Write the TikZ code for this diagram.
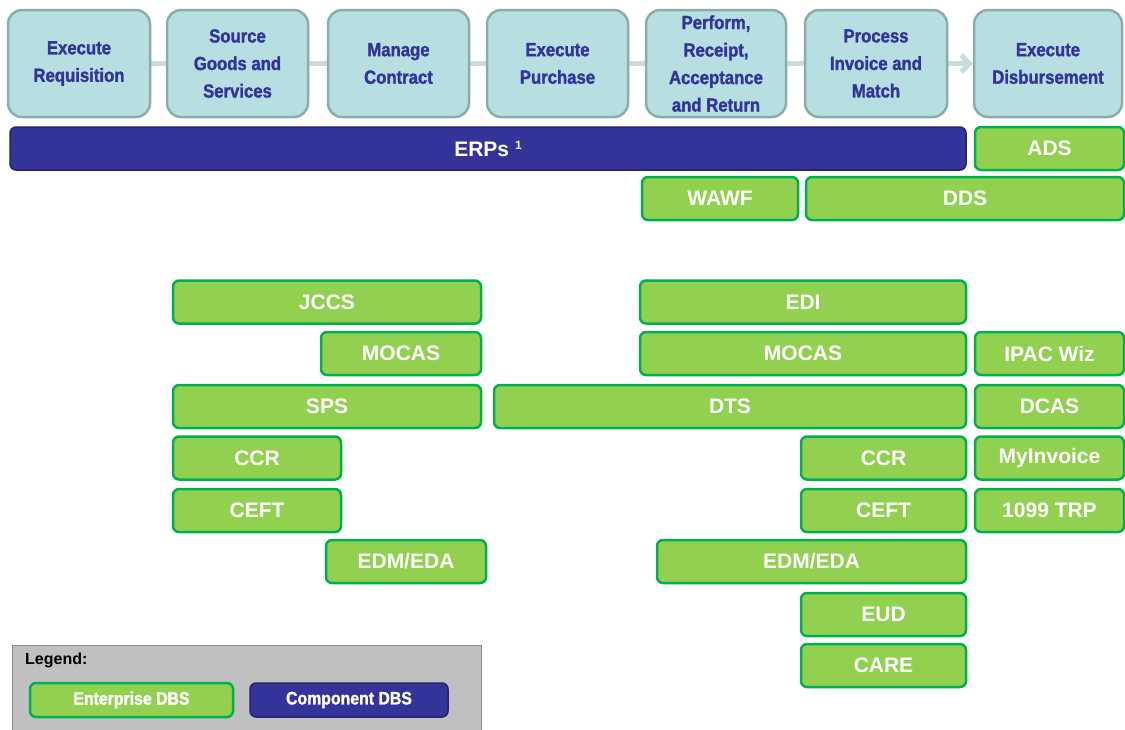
\documentclass[tikz,border=0pt]{standalone}
\usepackage{fontspec}
\setmainfont{Liberation Sans}
\newfontfamily\headfont[FakeStretch=0.88,BoldFeatures={FakeBold=1.6}]{Liberation Sans}
\usetikzlibrary{arrows.meta,backgrounds}

\definecolor{procfill}{RGB}{183,223,226}
\definecolor{procline}{RGB}{140,172,172}
\definecolor{proctext}{RGB}{51,51,153}
\definecolor{entfill}{RGB}{146,208,80}
\definecolor{entline}{RGB}{0,176,80}
\definecolor{compfill}{RGB}{51,51,153}
\definecolor{compline}{RGB}{36,36,110}
\definecolor{flowline}{RGB}{200,220,222}
\definecolor{legfill}{RGB}{192,192,192}
\definecolor{legline}{RGB}{140,140,140}

\begin{document}
\begin{tikzpicture}[x=1pt,y=-1pt,
    proc/.style={draw=procline,line width=2.5pt,fill=procfill,rounded corners=14pt,
      minimum height=107pt,inner sep=0pt,align=center,text=proctext,
      font=\headfont\bfseries\fontsize{19}{27.5}\selectfont},
    ent/.style={draw=entline,line width=2.5pt,fill=entfill,rounded corners=6pt,
      minimum height=43pt,inner sep=0pt,text=white,
      font=\bfseries\fontsize{21}{21}\selectfont},
    comp/.style={ent,draw=compline,line width=1.5pt,fill=compfill},
    flow/.style={draw=flowline,line width=5pt,-{Straight Barb[length=8pt,width=17pt]}}]
    \useasboundingbox (0,0) rectangle (1125,729);
    \def\ya{63.5}
    % process steps
    \node[proc,minimum width=142pt] (H0) at (79,\ya) {Execute\\Requisition};
    \node[proc,minimum width=141pt] (H1) at (237.5,\ya) {Source\\Goods and\\Services};
    \node[proc,minimum width=141pt] (H2) at (398.5,\ya) {Manage\\Contract};
    \node[proc,minimum width=141pt] (H3) at (557.5,\ya) {Execute\\Purchase};
    \node[proc,minimum width=140pt] (H4) at (716,\ya) {Perform,\\Receipt,\\Acceptance\\and Return};
    \node[proc,minimum width=142pt] (H5) at (876,\ya) {Process\\Invoice and\\Match};
    \node[proc,minimum width=148pt] (H6) at (1048,\ya) {Execute\\Disbursement};
    \begin{scope}[on background layer]
      \path[flow] (H0.east) -- (H6.west);
    \end{scope}
    % systems, row by row
    \node[comp,minimum width=956pt] (R0_0) at (488,148.5) {ERPs~\raisebox{7pt}{\fontsize{12}{12}\selectfont 1}};
    \node[ent,minimum width=149pt] (R0_1) at (1049.5,148.5) {ADS};
    \node[ent,minimum width=156pt] (R1_0) at (720,198.5) {WAWF};
    \node[ent,minimum width=318pt] (R1_1) at (965,198.5) {DDS};
    \node[ent,minimum width=308pt] (R2_0) at (327,302) {JCCS};
    \node[ent,minimum width=326pt] (R2_1) at (803,302) {EDI};
    \node[ent,minimum width=160pt] (R3_0) at (401,353.5) {MOCAS};
    \node[ent,minimum width=326pt] (R3_1) at (803,353.5) {MOCAS};
    \node[ent,minimum width=149pt] (R3_2) at (1049.5,353.5) {IPAC Wiz};
    \node[ent,minimum width=308pt] (R4_0) at (327,406.5) {SPS};
    \node[ent,minimum width=472pt] (R4_1) at (730,406.5) {DTS};
    \node[ent,minimum width=149pt] (R4_2) at (1049.5,406.5) {DCAS};
    \node[ent,minimum width=168pt] (R5_0) at (257,458) {CCR};
    \node[ent,minimum width=165pt] (R5_1) at (883.5,458) {CCR};
    \node[ent,minimum width=149pt] (R5_2) at (1049.5,458) {MyInvoice};
    \node[ent,minimum width=168pt] (R6_0) at (257,510.5) {CEFT};
    \node[ent,minimum width=165pt] (R6_1) at (883.5,510.5) {CEFT};
    \node[ent,minimum width=149pt] (R6_2) at (1049.5,510.5) {1099 TRP};
    \node[ent,minimum width=160pt] (R7_0) at (406,561.5) {EDM/EDA};
    \node[ent,minimum width=309pt] (R7_1) at (811.5,561.5) {EDM/EDA};
    \node[ent,minimum width=165pt] (R8_1) at (883.5,614.5) {EUD};
    \node[ent,minimum width=165pt] (R9_1) at (883.5,665.5) {CARE};
    % legend
    \node[draw=legline,line width=1pt,fill=legfill,minimum width=469pt,minimum height=92pt] (L0) at (246.5,691) {};
    \node[anchor=west,inner sep=0pt,font=\bfseries\fontsize{16}{16}\selectfont] (L1) at (25,660) {Legend:};
    \node[ent,minimum width=203pt,minimum height=34pt,font=\headfont\bfseries\fontsize{18}{18}\selectfont] (L2) at (131.5,700) {Enterprise DBS};
    \node[comp,minimum width=198pt,minimum height=34pt,font=\headfont\bfseries\fontsize{18}{18}\selectfont] (L3) at (349,700) {Component DBS};
\end{tikzpicture}
\end{document}
